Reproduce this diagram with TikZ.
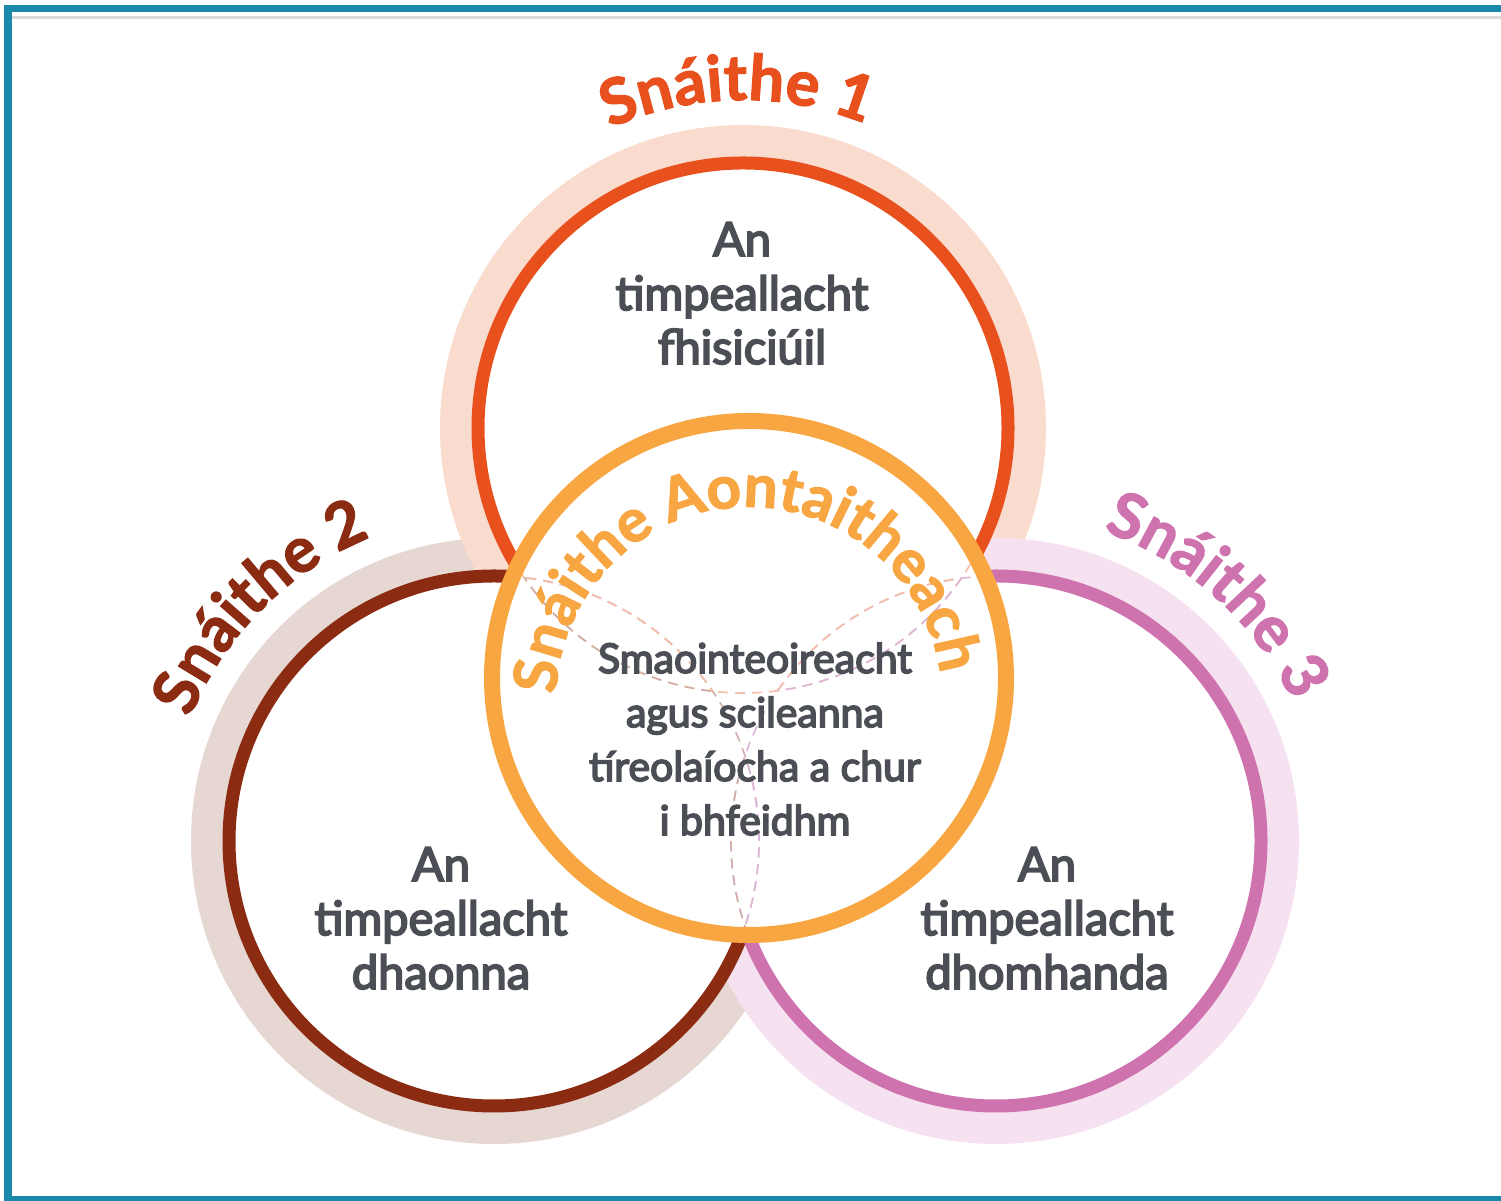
\documentclass[tikz,border=0pt]{standalone}
\usepackage{fontspec}
\setmainfont{Lato}
\newfontfamily\bodyfam{Lato}[FakeBold=4]
\newfontfamily\lblfam{Lato}[BoldFeatures={FakeBold=2}]
\usetikzlibrary{decorations.text}
\definecolor{frameteal}{HTML}{1A88A9}
\definecolor{framegray}{HTML}{D9D9D9}
\definecolor{cone}{HTML}{E8501E}
\definecolor{conepale}{HTML}{FADCCF}
\definecolor{ctwo}{HTML}{8B2C12}
\definecolor{ctwopale}{HTML}{E6D7D2}
\definecolor{cthree}{HTML}{CF73AF}
\definecolor{cthreepale}{HTML}{F5E1F0}
\definecolor{cunion}{HTML}{F7A642}
\definecolor{textgray}{HTML}{4B4F55}
\definecolor{dashone}{HTML}{F5BCA6}
\definecolor{dashtwo}{HTML}{CFAFA5}
\definecolor{dashthree}{HTML}{DDB5DB}
\tikzset{
  paleband/.style={line width=32pt},
  ringline/.style={line width=13pt},
  dashline/.style={line width=1.6pt, dash pattern=on 10pt off 7pt},
  bodytext/.style={align=center, text=textgray, anchor=base, inner sep=0pt, font=\bodyfam\fontsize{47}{54}\selectfont},
  centertext/.style={align=center, text=textgray, anchor=base, inner sep=0pt, font=\bodyfam\fontsize{41}{54}\selectfont},
}
\newcommand{\lblfont}{\lblfam\fontsize{63}{63}\selectfont\bfseries}
\newcommand{\unionfont}{\lblfam\fontsize{60}{60}\selectfont\bfseries}
\begin{document}
\begin{tikzpicture}[x=1pt,y=1pt]
\useasboundingbox (0,0) rectangle (1501,1201);
\fill[white] (0,0) rectangle (1501,1201);
% frame
\fill[frameteal] (4,5) rectangle (12,1196);
\fill[frameteal] (4,1189) rectangle (1501,1196);
\fill[frameteal] (4,0) rectangle (1501,5);
\fill[framegray] (12,1182) rectangle (1501,1184.5);
% centres
\coordinate (T) at (743,773);
\coordinate (B) at (494,360);
\coordinate (P) at (996,360);
\coordinate (O) at (749,523);
\coordinate (L) at (749,501);
% pale bands
\draw[paleband, ctwopale] (B) circle[radius=287pt];
\draw[paleband, conepale] (T) circle[radius=287pt];
\draw[paleband, cthreepale] (P) circle[radius=287pt];
% interiors
\fill[white] (B) circle[radius=265pt];
\fill[white] (T) circle[radius=265pt];
\fill[white] (P) circle[radius=265pt];
% rings
\draw[ringline, ctwo] (B) circle[radius=265pt];
\draw[ringline, cone] (T) circle[radius=265pt];
\draw[ringline, cthree] (P) circle[radius=265pt];
% central circle
\fill[white] (O) circle[radius=257pt];
\begin{scope}
  \clip (O) circle[radius=249pt];
  \draw[dashline, dashone] (T) circle[radius=265pt];
  \draw[dashline, dashtwo] (B) circle[radius=265pt];
  \draw[dashline, dashthree] (P) circle[radius=265pt];
  \begin{scope}
    \clip (B) circle[radius=265pt];
    \draw[dashline, dashtwo] (T) circle[radius=265pt];
    \draw[dashline, dashtwo] (P) circle[radius=265pt];
  \end{scope}
  \begin{scope}
    \clip (T) circle[radius=265pt];
    \draw[dashline, dashone] (B) circle[radius=265pt];
    \draw[dashline, dashone] (P) circle[radius=265pt];
  \end{scope}
  \begin{scope}
    \clip (P) circle[radius=265pt];
    \draw[dashline, dashthree] (T) circle[radius=265pt];
    \draw[dashline, dashthree] (B) circle[radius=265pt];
  \end{scope}
\end{scope}
\draw[line width=16pt, cunion] (O) circle[radius=257pt];
% curved labels
\path[decorate, decoration={text along path, text align=center,
  text={|\lblfont\color{cone}|Snáithe 1}}]
  (T) ++(141:328pt) arc[start angle=141, end angle=41, radius=328pt];
\path[decorate, decoration={text along path, text align=center,
  text={|\lblfont\color{ctwo}|Snáithe 2}}]
  (B) ++(185:328pt) arc[start angle=185, end angle=85, radius=328pt];
\path[decorate, decoration={text along path, text align=center,
  text={|\lblfont\color{cthree}|Snáithe 3}}]
  (P) ++(98:328pt) arc[start angle=98, end angle=-2, radius=328pt];
\path[decorate, decoration={text along path, text align=center,
  text={|\unionfont\color{cunion}|Snáithe Aontaitheach}}]
  (L) ++(188:193pt) arc[start angle=188, end angle=-2, radius=193pt];
% texts (anchor = baseline of last line)
\node[bodytext] (tone) at (742,837) {An\\timpeallacht\\fhisiciúil};
\node[bodytext] (ttwo) at (441,212) {An\\timpeallacht\\dhaonna};
\node[bodytext] (tthree) at (1047,212) {An\\timpeallacht\\dhomhanda};
\node[centertext] (tcentre) at (755,366) {Smaointeoireacht\\agus scileanna\\tíreolaíocha a chur\\i bhfeidhm};
\end{tikzpicture}
\end{document}
